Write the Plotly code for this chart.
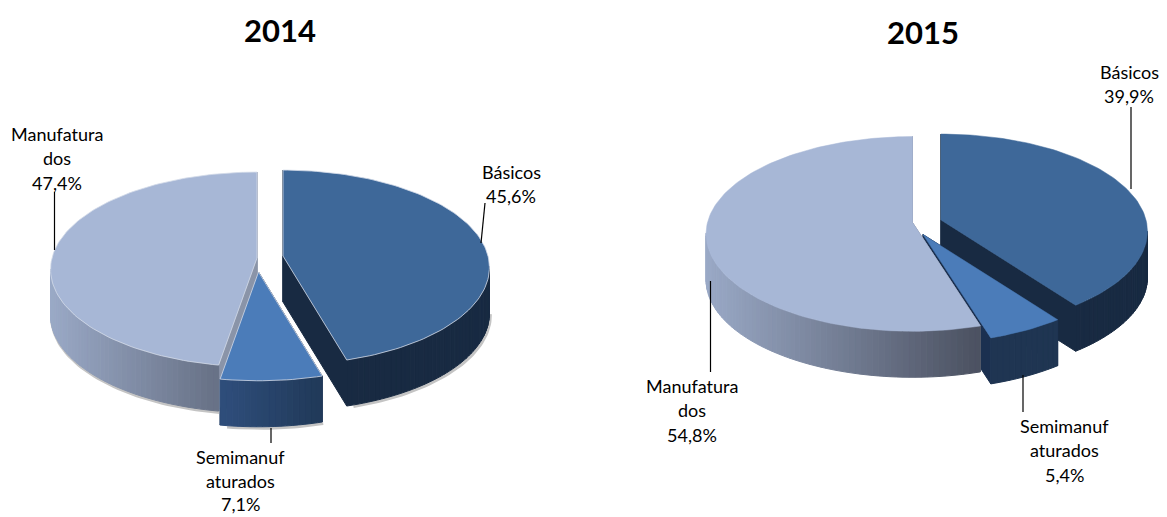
import math
import plotly.graph_objects as go

# ---- data ----
YEARS = ["2014", "2015"]
CATEGORIES = ["Básicos", "Semimanufaturados", "Manufaturados"]
VALUES_2014 = [45.6, 7.1, 47.4]
VALUES_2015 = [39.9, 5.4, 54.8]
LABEL_LINES = [["Básicos"], ["Semimanuf", "aturados"], ["Manufatura", "dos"]]

# ---- styling / layout ----
FONT = "Lato"
A, B, P, DEPTH = 205.0, 96.0, 0.1175, 46.0
TOP = {"Básicos": "#3E6899", "Semimanufaturados": "#4B7CB9", "Manufaturados": "#A7B7D6"}
WALL_2014 = {"Básicos": ("#182A42", "#182A42"), "Semimanufaturados": ("#2E4D7A", "#213A5A"),
             "Manufaturados": ("#9AA9C6", "#687287")}
WALL_2015 = {"Básicos": ("#182A42", "#182A42"), "Semimanufaturados": ("#1F3552", "#1F3552"),
             "Manufaturados": ("#9AA9C6", "#4C5262")}
FACE = {"Básicos": "#182A42", "Semimanufaturados": "#1B3050", "Manufaturados": "#8A94A8"}
CENTERS_2014 = {"Básicos": (283, 256), "Semimanufaturados": (258.5, 272), "Manufaturados": (257, 258)}
CENTERS_2015 = {"Básicos": (941, 220), "Semimanufaturados": (923, 234.5), "Manufaturados": (912.5, 222.5)}
ORDER = ["Básicos", "Manufaturados", "Semimanufaturados"]


def project(center, theta):
    u, v = math.sin(theta), math.cos(theta)
    s = 1 / (1 + P * v)
    return center[0] + A * u * s, center[1] - B * v * s


def mix(c1, c2, t):
    a = [int(c1[i:i + 2], 16) for i in (1, 3, 5)]
    b = [int(c2[i:i + 2], 16) for i in (1, 3, 5)]
    return "rgb(%d,%d,%d)" % tuple(round(x + (y - x) * t) for x, y in zip(a, b))


def poly(fig, xs, ys, color, line=None, width=1):
    fig.add_trace(go.Scatter(x=xs + xs[:1], y=ys + ys[:1], mode="lines", fill="toself", fillcolor=color,
                             line=dict(color=line or color, width=width), hoverinfo="skip", showlegend=False))


def arc(center, t0, t1, n):
    pts = [project(center, t0 + (t1 - t0) * i / n) for i in range(n + 1)]
    return [p[0] for p in pts], [p[1] for p in pts]


def draw_faces(fig, c, xs, ys, color):
    for idx in (0, -1):
        poly(fig, [c[0], xs[idx], xs[idx], c[0]], [c[1], ys[idx], ys[idx] + DEPTH, c[1] + DEPTH], color)


def draw_pie(fig, values, centers, walls, edge=None, shadow=False):
    total = sum(values)
    angle = {}
    acc = 0.0
    for cat, val in zip(CATEGORIES, values):
        angle[cat] = (acc / total * 2 * math.pi, (acc + val) / total * 2 * math.pi)
        acc += val
    geo = {}
    for cat in ORDER:
        t0, t1 = angle[cat]
        n = max(6, int((t1 - t0) / math.radians(1.5)))
        geo[cat] = (t0, t1, n) + arc(centers[cat], t0, t1, n)
    # the small slice's cut faces sit behind the large slices
    t0, t1, n, xs, ys = geo["Semimanufaturados"]
    draw_faces(fig, centers["Semimanufaturados"], xs, ys, FACE["Semimanufaturados"])
    for cat in ORDER:
        t0, t1, n, xs, ys = geo[cat]
        c = centers[cat]
        if cat != "Semimanufaturados":
            draw_faces(fig, c, xs, ys, FACE[cat])
        vis = [i for i in range(n) if math.cos(t0 + (t1 - t0) * (i + .5) / n) < -P * 0.9]
        if vis:
            x_min, x_max = min(xs[i] for i in vis), max(xs[i + 1] for i in vis)
            if shadow:
                fig.add_trace(go.Scatter(x=[xs[i] + 1 for i in vis], y=[ys[i] + DEPTH + 1.5 for i in vis], mode="lines",
                                         line=dict(color="#C4C4C4", width=3), hoverinfo="skip", showlegend=False))
            for i in vis:
                t = ((xs[i] + xs[i + 1]) / 2 - x_min) / max(1, x_max - x_min)
                col = mix(walls[cat][0], walls[cat][1], max(0, min(1, t)))
                poly(fig, [xs[i], xs[i + 1], xs[i + 1], xs[i]],
                     [ys[i], ys[i + 1], ys[i + 1] + DEPTH, ys[i] + DEPTH], col)
        poly(fig, [c[0]] + xs, [c[1]] + ys, TOP[cat], line=edge or TOP[cat], width=0.8 if edge else 0.5)


fig = go.Figure()
draw_pie(fig, VALUES_2014, CENTERS_2014, WALL_2014, edge="#D3DAE8", shadow=True)
draw_pie(fig, VALUES_2015, CENTERS_2015, WALL_2015)


def pct(v):
    return f"{v:.1f}".replace(".", ",") + "%"


def label(lines, x, y0, step=24.4):
    for i, txt in enumerate(lines):
        fig.add_annotation(x=x, y=y0 + i * step, text=txt, showarrow=False, xanchor="center", yanchor="middle",
                           font=dict(family=FONT, size=18, color="#000000"))


label(LABEL_LINES[0] + [pct(VALUES_2014[0])], 511, 172)
label(LABEL_LINES[1] + [pct(VALUES_2014[1])], 240, 457, step=23.5)
label(LABEL_LINES[2] + [pct(VALUES_2014[2])], 57, 134)
label(LABEL_LINES[0] + [pct(VALUES_2015[0])], 1129, 72)
label(LABEL_LINES[1] + [pct(VALUES_2015[1])], 1064, 426)
label(LABEL_LINES[2] + [pct(VALUES_2015[2])], 692, 386)

for (x0, y0, x1, y1) in [(485, 203, 481, 243), (54.5, 192, 54.5, 250), (271, 428, 271, 443),
                         (1131, 107, 1131, 189), (710.5, 281, 710.5, 372), (1023, 375, 1023, 412)]:
    fig.add_shape(type="line", x0=x0, y0=y0, x1=x1, y1=y1, xref="x", yref="y", line=dict(color="#000000", width=1.2))

fig.add_annotation(x=280, y=30, text=f"<b>{YEARS[0]}</b>", showarrow=False,
                   font=dict(family=FONT, size=31, color="#000000"))
fig.add_annotation(x=923, y=32, text=f"<b>{YEARS[1]}</b>", showarrow=False,
                   font=dict(family=FONT, size=31, color="#000000"))

fig.update_layout(width=1167, height=517, margin=dict(l=0, r=0, t=0, b=0), paper_bgcolor="#FFFFFF",
                  plot_bgcolor="#FFFFFF", showlegend=False,
                  xaxis=dict(range=[0, 1167], visible=False, fixedrange=True),
                  yaxis=dict(range=[517, 0], visible=False, fixedrange=True))
fig.write_html("out.html", post_script="document.body.style.margin='0';", config={"displayModeBar": False})
